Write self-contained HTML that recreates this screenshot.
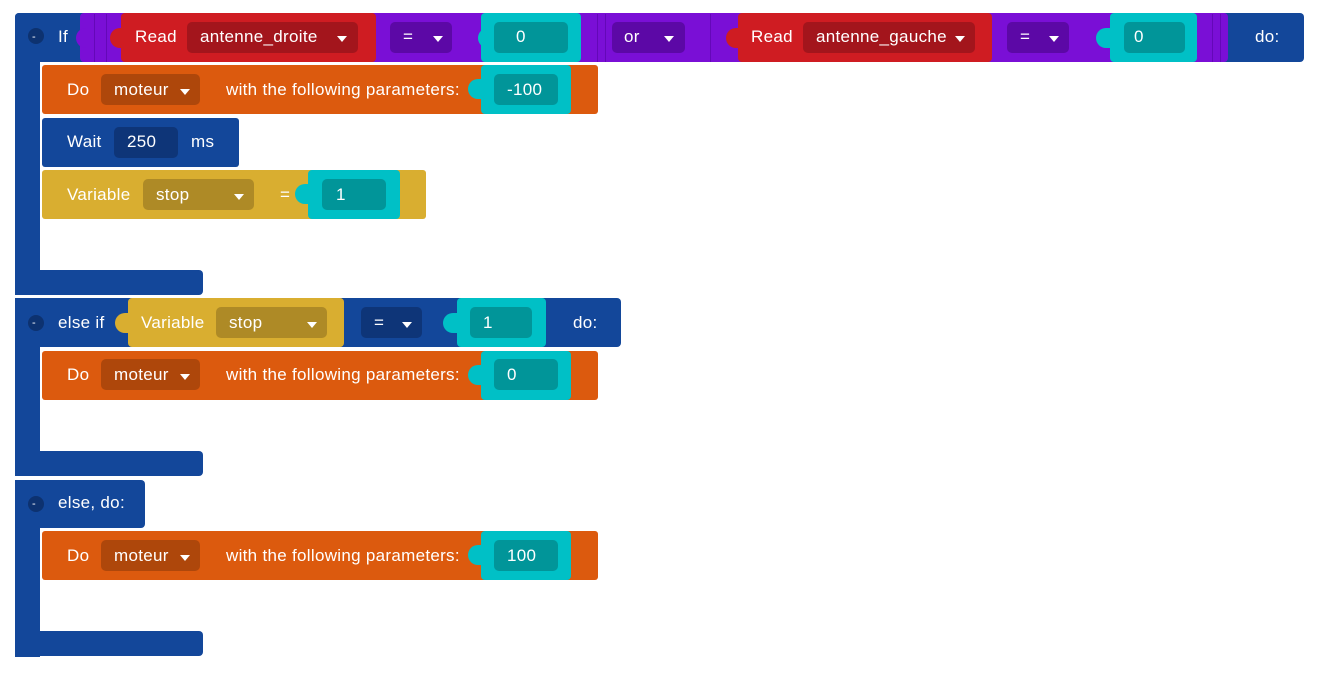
<!DOCTYPE html>
<html><head><style>
body{margin:0;width:1343px;height:677px;background:#fff;position:relative;overflow:hidden;font-family:"Liberation Sans",sans-serif;font-size:17px;color:#fff}
div{position:absolute;box-sizing:border-box}
.b{background:#13479a}
.t{line-height:20px;white-space:nowrap;letter-spacing:0.3px;margin-top:1px}
.dd{border-radius:5px;height:31px}
.arr{width:0;height:0;border-left:5px solid transparent;border-right:5px solid transparent;border-top:6px solid #fff}
.knob{width:14px;height:20px;border-radius:10px 0 0 10px}
.cy{background:#00c0c6;border-radius:4px}
.tl{background:#019599;border-radius:5px}
</style></head><body>
<!-- spines -->
<div class="b" style="left:15px;top:13px;width:25px;height:282px;border-radius:4px 0 0 0"></div>
<div class="b" style="left:15px;top:270px;width:188px;height:25px;border-radius:0 4px 4px 0"></div>
<div class="b" style="left:15px;top:298px;width:25px;height:178px"></div>
<div class="b" style="left:15px;top:451px;width:188px;height:25px;border-radius:0 4px 4px 0"></div>
<div class="b" style="left:15px;top:480px;width:25px;height:177px"></div>
<div class="b" style="left:15px;top:631px;width:188px;height:25px;border-radius:0 4px 4px 0"></div>

<!-- IF row -->
<div class="b" style="left:15px;top:13px;width:1289px;height:49px;border-radius:4px"></div>
<div style="left:28px;top:28px;width:16px;height:16px;border-radius:8px;background:#0d3270"></div>
<div class="t" style="left:32px;top:26px;font-size:11px">-</div>
<div class="t" style="left:58px;top:26px">If</div>
<div style="left:80px;top:13px;width:1148px;height:49px;background:#7a0fd6;border-radius:4px"></div>
<div style="left:94px;top:14px;width:1px;height:48px;background:#6408b8"></div>
<div style="left:106px;top:14px;width:1px;height:48px;background:#6408b8"></div>
<div class="knob" style="left:76px;top:28px;background:#7a0fd6"></div>
<div style="left:121px;top:13px;width:255px;height:49px;background:#cf1c22;border-radius:4px"></div>
<div class="knob" style="left:110px;top:28px;background:#cf1c22"></div>
<div class="t" style="left:135px;top:26px">Read</div>
<div class="dd" style="left:187px;top:22px;width:171px;background:#a3151c"></div>
<div class="t" style="left:200px;top:26px">antenne_droite</div>
<div class="arr" style="left:337px;top:36px"></div>
<div class="dd" style="left:390px;top:22px;width:62px;background:#5c08a6"></div>
<div class="t" style="left:403px;top:26px">=</div>
<div class="arr" style="left:433px;top:36px"></div>
<div class="cy" style="left:481px;top:13px;width:100px;height:49px"></div>
<div class="knob cy" style="left:478px;top:28px;border-radius:10px 0 0 10px"></div>
<div class="tl dd" style="left:494px;top:22px;width:74px"></div>
<div class="t" style="left:516px;top:26px">0</div>
<div style="left:597px;top:14px;width:1px;height:48px;background:#6408b8"></div>
<div style="left:605px;top:14px;width:1px;height:48px;background:#6408b8"></div>
<div class="dd" style="left:612px;top:22px;width:73px;background:#5c08a6"></div>
<div class="t" style="left:624px;top:26px">or</div>
<div class="arr" style="left:664px;top:36px"></div>
<div style="left:710px;top:14px;width:1px;height:48px;background:#6408b8"></div>
<div style="left:738px;top:13px;width:254px;height:49px;background:#cf1c22;border-radius:4px"></div>
<div class="knob" style="left:726px;top:28px;background:#cf1c22"></div>
<div class="t" style="left:751px;top:26px">Read</div>
<div class="dd" style="left:803px;top:22px;width:172px;background:#a3151c"></div>
<div class="t" style="left:816px;top:26px">antenne_gauche</div>
<div class="arr" style="left:955px;top:36px"></div>
<div class="dd" style="left:1007px;top:22px;width:62px;background:#5c08a6"></div>
<div class="t" style="left:1020px;top:26px">=</div>
<div class="arr" style="left:1049px;top:36px"></div>
<div class="cy" style="left:1110px;top:13px;width:87px;height:49px"></div>
<div class="knob cy" style="left:1096px;top:28px;border-radius:10px 0 0 10px"></div>
<div class="tl dd" style="left:1124px;top:22px;width:61px"></div>
<div class="t" style="left:1134px;top:26px">0</div>
<div style="left:1212px;top:14px;width:1px;height:48px;background:#6408b8"></div>
<div style="left:1220px;top:14px;width:1px;height:48px;background:#6408b8"></div>
<div class="t" style="left:1255px;top:26px">do:</div>

<!-- Do -100 -->
<div style="left:42px;top:65px;width:556px;height:49px;background:#dc5a0e;border-radius:3px"></div>
<div class="t" style="left:67px;top:79px">Do</div>
<div class="dd" style="left:101px;top:74px;width:99px;background:#ae470b"></div>
<div class="t" style="left:114px;top:79px">moteur</div>
<div class="arr" style="left:180px;top:89px"></div>
<div class="t" style="left:226px;top:79px">with the following parameters:</div>
<div class="cy" style="left:481px;top:65px;width:90px;height:49px"></div>
<div class="knob cy" style="left:468px;top:79px;border-radius:10px 0 0 10px"></div>
<div class="tl dd" style="left:494px;top:74px;width:64px"></div>
<div class="t" style="left:507px;top:79px">-100</div>

<!-- Wait -->
<div class="b" style="left:42px;top:118px;width:197px;height:49px;border-radius:3px"></div>
<div class="t" style="left:67px;top:131px">Wait</div>
<div class="dd" style="left:114px;top:127px;width:64px;background:#0e3578"></div>
<div class="t" style="left:127px;top:131px">250</div>
<div class="t" style="left:191px;top:131px">ms</div>

<!-- Variable -->
<div style="left:42px;top:170px;width:384px;height:49px;background:#d9ae30;border-radius:3px"></div>
<div class="t" style="left:67px;top:184px">Variable</div>
<div class="dd" style="left:143px;top:179px;width:111px;background:#ae8a26"></div>
<div class="t" style="left:156px;top:184px">stop</div>
<div class="arr" style="left:234px;top:194px"></div>
<div class="t" style="left:280px;top:184px">=</div>
<div class="cy" style="left:308px;top:170px;width:92px;height:49px"></div>
<div class="knob cy" style="left:295px;top:184px;border-radius:10px 0 0 10px"></div>
<div class="tl dd" style="left:322px;top:179px;width:64px"></div>
<div class="t" style="left:336px;top:184px">1</div>

<!-- else if -->
<div class="b" style="left:15px;top:298px;width:606px;height:49px;border-radius:4px"></div>
<div style="left:28px;top:315px;width:16px;height:16px;border-radius:8px;background:#0d3270"></div>
<div class="t" style="left:32px;top:312px;font-size:11px">-</div>
<div class="t" style="left:58px;top:312px">else if</div>
<div style="left:128px;top:298px;width:216px;height:49px;background:#d9ae30;border-radius:4px"></div>
<div class="knob" style="left:115px;top:313px;background:#d9ae30"></div>
<div class="t" style="left:141px;top:312px">Variable</div>
<div class="dd" style="left:216px;top:307px;width:111px;background:#ae8a26"></div>
<div class="t" style="left:229px;top:312px">stop</div>
<div class="arr" style="left:307px;top:322px"></div>
<div class="dd" style="left:361px;top:307px;width:61px;background:#0e3578"></div>
<div class="t" style="left:374px;top:312px">=</div>
<div class="arr" style="left:402px;top:322px"></div>
<div class="cy" style="left:457px;top:298px;width:89px;height:49px"></div>
<div class="knob cy" style="left:443px;top:313px;border-radius:10px 0 0 10px"></div>
<div class="tl dd" style="left:470px;top:307px;width:62px"></div>
<div class="t" style="left:483px;top:312px">1</div>
<div class="t" style="left:573px;top:312px">do:</div>

<!-- Do 0 -->
<div style="left:42px;top:351px;width:556px;height:49px;background:#dc5a0e;border-radius:3px"></div>
<div class="t" style="left:67px;top:364px">Do</div>
<div class="dd" style="left:101px;top:359px;width:99px;background:#ae470b"></div>
<div class="t" style="left:114px;top:364px">moteur</div>
<div class="arr" style="left:180px;top:374px"></div>
<div class="t" style="left:226px;top:364px">with the following parameters:</div>
<div class="cy" style="left:481px;top:351px;width:90px;height:49px"></div>
<div class="knob cy" style="left:468px;top:365px;border-radius:10px 0 0 10px"></div>
<div class="tl dd" style="left:494px;top:359px;width:64px"></div>
<div class="t" style="left:507px;top:364px">0</div>

<!-- else do -->
<div class="b" style="left:15px;top:480px;width:130px;height:48px;border-radius:4px"></div>
<div style="left:28px;top:496px;width:16px;height:16px;border-radius:8px;background:#0d3270"></div>
<div class="t" style="left:32px;top:493px;font-size:11px">-</div>
<div class="t" style="left:58px;top:492px">else, do:</div>

<!-- Do 100 -->
<div style="left:42px;top:531px;width:556px;height:49px;background:#dc5a0e;border-radius:3px"></div>
<div class="t" style="left:67px;top:545px">Do</div>
<div class="dd" style="left:101px;top:540px;width:99px;background:#ae470b"></div>
<div class="t" style="left:114px;top:545px">moteur</div>
<div class="arr" style="left:180px;top:555px"></div>
<div class="t" style="left:226px;top:545px">with the following parameters:</div>
<div class="cy" style="left:481px;top:531px;width:90px;height:49px"></div>
<div class="knob cy" style="left:468px;top:545px;border-radius:10px 0 0 10px"></div>
<div class="tl dd" style="left:494px;top:540px;width:64px"></div>
<div class="t" style="left:507px;top:545px">100</div>
</body></html>
